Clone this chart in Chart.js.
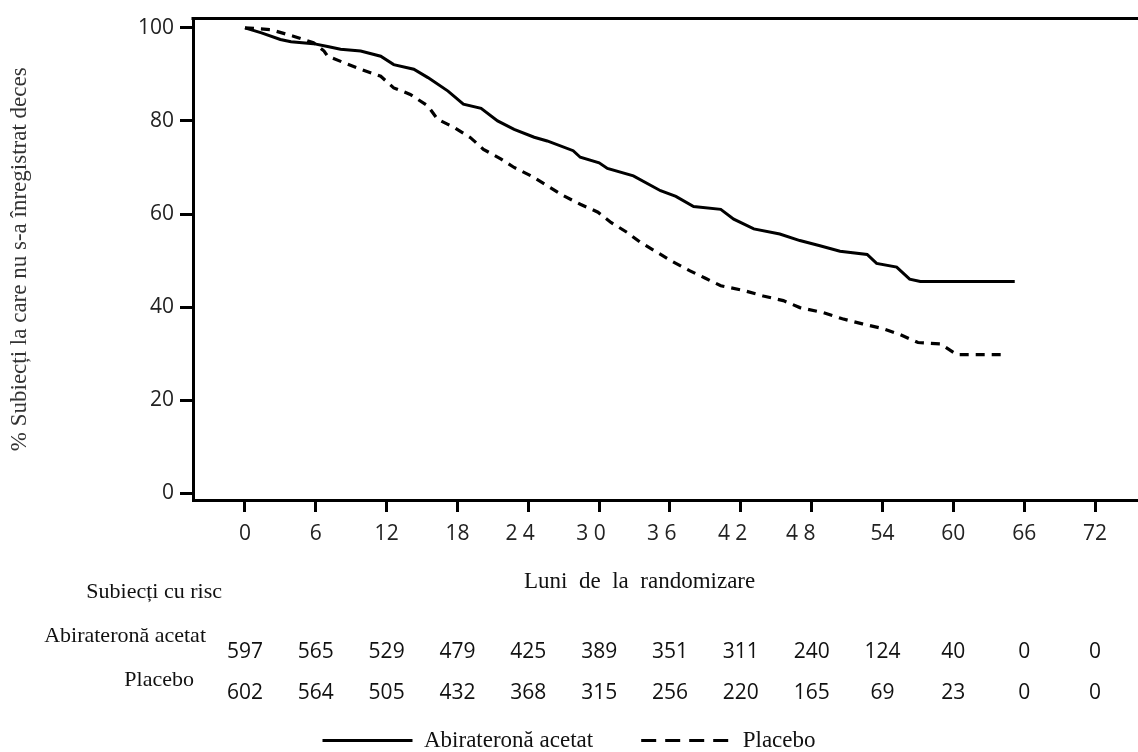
<!DOCTYPE html>
<html>
<head>
<meta charset="utf-8">
<script src="https://cdn.jsdelivr.net/npm/chart.js@4.4.1/dist/chart.umd.min.js"></script>
<style>
  html, body { margin: 0; padding: 0; background: #fff; }
  #wrap { width: 1138px; height: 752px; position: relative; }
</style>
</head>
<body>
<div id="wrap"><canvas id="kmChart"></canvas></div>
<script>
// ============ D A T E ============
const abiMonths = [0, 1.4, 3.0, 3.9, 5.8, 7.0, 8.1, 9.8, 11.5, 12.6, 14.3, 15.5, 17.2, 18.5, 20.0, 21.4, 22.8, 24.5, 25.6, 27.8, 28.4, 30.0, 30.7, 32.9, 35.2, 36.5, 38.0, 40.3, 41.4, 43.1, 45.3, 47.0, 48.7, 50.4, 52.7, 53.5, 55.2, 56.3, 57.2, 65.2];
const abiSurv   = [100, 98.9, 97.5, 97.0, 96.6, 96.0, 95.4, 95.0, 93.9, 92.1, 91.1, 89.3, 86.4, 83.6, 82.7, 80.0, 78.2, 76.5, 75.7, 73.6, 72.2, 71.0, 69.8, 68.2, 65.0, 63.8, 61.6, 61.0, 58.9, 56.8, 55.7, 54.3, 53.2, 52.0, 51.3, 49.4, 48.6, 46.0, 45.5, 45.5];

const plaMonths = [0, 2.2, 4.1, 5.8, 6.7, 7.0, 8.4, 9.8, 11.5, 12.6, 14.0, 15.5, 16.3, 17.7, 19.1, 20.2, 21.7, 22.8, 24.3, 25.6, 27.0, 28.4, 29.9, 31.0, 32.4, 33.5, 34.9, 36.2, 37.7, 39.0, 40.3, 42.2, 43.9, 45.6, 47.0, 49.0, 50.6, 52.3, 54.0, 55.5, 57.0, 58.9, 60.3, 64.6];
const plaSurv   = [100, 99.6, 98.2, 96.8, 95.0, 93.9, 92.5, 91.1, 89.6, 87.1, 85.7, 83.2, 80.4, 78.6, 76.4, 73.9, 71.8, 70.0, 68.1, 66.1, 63.9, 62.1, 60.4, 58.2, 56.0, 53.9, 51.8, 49.8, 47.8, 46.2, 44.6, 43.6, 42.4, 41.4, 39.9, 38.8, 37.5, 36.4, 35.4, 34.1, 32.4, 32.1, 29.8, 29.8];

const xTicks = [0, 6, 12, 18, 24, 30, 36, 42, 48, 54, 60, 66, 72];
const xTickLabels = ['0', '6', '12', '18', '2 4   ', '3 0   ', '3 6   ', '4 2   ', '4 8    ', '54', '60', '66', '72'];
const yTicks = [0, 20, 40, 60, 80, 100];

const riskAbi = [597, 565, 529, 479, 425, 389, 351, 311, 240, 124, 40, 0, 0];
const riskPla = [602, 564, 505, 432, 368, 315, 256, 220, 165, 69, 23, 0, 0];

const SANS = '"Open Sans", "Noto Sans", sans-serif';
const SERIF = '"Liberation Serif", "DejaVu Serif", serif';

// ============ P L U G I N S ============
// top frame line
const topFrame = {
  id: 'topFrame',
  afterDraw(chart) {
    const { ctx, chartArea } = chart;
    ctx.save();
    ctx.strokeStyle = '#000';
    ctx.lineWidth = 3;
    ctx.beginPath();
    ctx.moveTo(chartArea.left - 1.5, chartArea.top);
    ctx.lineTo(chartArea.right, chartArea.top);
    ctx.stroke();
    ctx.restore();
  }
};

// number-at-risk table under the axis
const riskTable = {
  id: 'riskTable',
  afterDraw(chart) {
    const { ctx } = chart;
    const xs = chart.scales.x;
    ctx.save();
    ctx.fillStyle = '#111';
    ctx.textBaseline = 'middle';
    ctx.font = '22px ' + SERIF;
    ctx.textAlign = 'right';
    ctx.fillText('Subiecți cu risc', 222, 592);
    ctx.fillText('Abirateronă acetat', 206, 636);
    ctx.fillText('Placebo', 194, 680);

    ctx.font = '21px ' + SANS;
    ctx.textAlign = 'center';
    xTicks.forEach((m, i) => {
      const px = xs.getPixelForValue(m);
      ctx.fillText(String(riskAbi[i]), px, 652);
      ctx.fillText(String(riskPla[i]), px, 693);
    });
    ctx.restore();
  }
};

// ============ D I A G R A M A ============
const ctx = document.getElementById('kmChart');

new Chart(ctx, {
  type: 'line',
  data: {
    datasets: [
      {
        label: 'Abirateronă acetat',
        data: abiMonths.map((m, i) => ({ x: m, y: abiSurv[i] })),
        borderColor: '#000',
        backgroundColor: '#000',
        borderWidth: 3,
        pointRadius: 0,
        tension: 0
      },
      {
        label: 'Placebo',
        data: plaMonths.map((m, i) => ({ x: m, y: plaSurv[i] })),
        borderColor: '#000',
        backgroundColor: '#000',
        borderWidth: 3.2,
        borderDash: [9, 7],
        pointRadius: 0,
        tension: 0
      }
    ]
  },
  options: {
    responsive: true,
    maintainAspectRatio: false,
    animation: false,
    layout: { padding: { top: 14, left: 0, right: 0, bottom: -10 } },
    plugins: {
      tooltip: { enabled: false },
      legend: {
        position: 'bottom',
        labels: {
          usePointStyle: true,
          pointStyle: 'line',
          pointStyleWidth: 90,
          padding: 48,
          color: '#111',
          font: { family: SERIF, size: 23 },
          generateLabels(chart) {
            const items = Chart.defaults.plugins.legend.labels.generateLabels(chart);
            items.forEach(it => {
              it.pointStyle = 'line';
              it.lineWidth = 3;
              if (it.text === 'Placebo') it.lineDash = [15, 9];
            });
            return items;
          }
        }
      }
    },
    scales: {
      x: {
        type: 'linear',
        min: -4.4,
        max: 75.64,
        afterBuildTicks(scale) { scale.ticks = xTicks.map(v => ({ value: v })); },
        afterFit(scale) { scale.height = 181; },
        border: { display: true, color: '#000', width: 3 },
        grid: { display: true, drawOnChartArea: false, drawTicks: true, tickLength: 12, tickWidth: 3, tickColor: '#000', color: '#000' },
        ticks: {
          autoSkip: false,
          maxRotation: 0,
          padding: 9,
          color: '#222',
          font: { family: SANS, size: 21 },
          callback(value, index) { return xTickLabels[index]; }
        },
        title: {
          display: true,
          text: 'Luni  de  la  randomizare         ',
          color: '#111',
          font: { family: SERIF, size: 23 },
          padding: { top: 0, bottom: 85 }
        }
      },
      y: {
        type: 'linear',
        min: -1.43,
        max: 101.98,
        afterBuildTicks(scale) { scale.ticks = yTicks.map(v => ({ value: v })); },
        afterFit(scale) { scale.width = 193; },
        border: { display: true, color: '#000', width: 3 },
        grid: { display: true, drawOnChartArea: false, drawTicks: true, tickLength: 13, tickWidth: 3, tickColor: '#000', color: '#000' },
        ticks: {
          padding: 6,
          color: '#222',
          font: { family: SANS, size: 21 }
        },
        title: {
          display: true,
          text: '% Subiecți la care nu s-a înregistrat deces',
          color: '#333',
          font: { family: SERIF, size: 23 },
          padding: { top: 6, bottom: 0 }
        }
      }
    }
  },
  plugins: [topFrame, riskTable]
});
</script>
</body>
</html>
